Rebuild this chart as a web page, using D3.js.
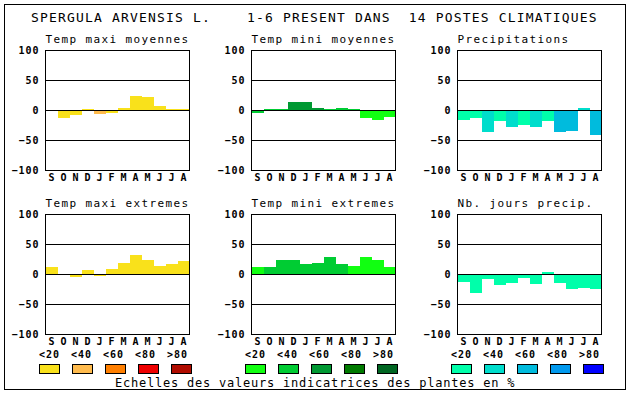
<!DOCTYPE html>
<html>
<head>
<meta charset="utf-8">
<script src="https://cdn.jsdelivr.net/npm/d3@7"></script>
<style>
  body { margin: 0; background: #fff; }
  svg { display: block; }
  text { font-family: "DejaVu Sans Mono", monospace; fill: #000; }
  .tick-lbl, .month, .leg-lbl { font-size: 10px; font-weight: bold; letter-spacing: 1px; }
  .sub { font-size: 11px; letter-spacing: 1.38px; }
</style>
</head>
<body>
<div id="chart"></div>
<script>
var months = ["S", "O", "N", "D", "J", "F", "M", "A", "M", "J", "J", "A"];
var yTicks = [-100, -50, 0, 50, 100];
var legendLabels = ["<20", "<40", "<60", "<80", ">80"];

var tempColors = ["#f9e11b", "#ffbb4d", "#ff7f00", "#ee0000", "#b00c00"];
var greenColors = ["#11ff11", "#00cc33", "#009933", "#007a00", "#006622"];
var blueColors = ["#00ffaa", "#00ddcc", "#00bbdd", "#0099ee", "#0000ff"];

// values (%) and colour class index per month
var maxiMoy = [0, -13, -8, 2, -6, -4, 5, 25, 22, 7, 3, 3];
var maxiMoyCls = [0, 0, 0, 0, 1, 0, 0, 0, 0, 0, 0, 0];
var miniMoy = [-4, 2, 2, 14, 15, 5, 3, 5, 3, -13, -15, -11];
var miniMoyCls = [1, 1, 1, 2, 2, 2, 1, 1, 1, 0, 0, 0];
var precip = [-16, -13, -35, -18, -28, -24, -28, -18, -36, -34, 5, -41];
var precipCls = [0, 0, 1, 0, 1, 0, 1, 0, 2, 2, 1, 2];
var maxiExt = [12, 0, -4, 7, -2, 10, 20, 32, 25, 14, 17, 22];
var maxiExtCls = [0, 0, 0, 0, 0, 0, 0, 0, 0, 0, 0, 0];
var miniExt = [12, 12, 25, 25, 17, 20, 30, 17, 14, 30, 24, 12];
var miniExtCls = [0, 1, 1, 1, 1, 1, 1, 1, 0, 0, 0, 0];
var joursPrecip = [-12, -31, -8, -17, -14, -6, -16, 4, -14, -24, -23, -24];
var joursPrecipCls = [0, 0, 0, 0, 0, 0, 0, 0, 0, 0, 0, 0];

var width = 630, height = 394,
    boxW = 144, boxH = 120,
    colLeft = [45, 251, 457],
    rowTop = [50, 214];

var svg = d3.select("#chart").append("svg")
    .attr("width", width)
    .attr("height", height);

svg.append("rect")
    .attr("x", 4.5).attr("y", 4.5)
    .attr("width", 621).attr("height", 385)
    .attr("fill", "none").attr("stroke", "#000");

svg.append("text")
    .attr("x", 31).attr("y", 22)
    .style("font-size", "13px")
    .style("letter-spacing", "1.17px")
    .style("white-space", "pre")
    .text("SPERGULA ARVENSIS L.    1-6 PRESENT DANS  14 POSTES CLIMATIQUES");

function panel(col, row, title, values, cls, colors) {
    var g = svg.append("g")
        .attr("transform", "translate(" + (colLeft[col] + 0.5) + "," + (rowTop[row] + 0.5) + ")");

    var x = d3.scaleBand().domain(d3.range(12)).range([0, boxW]);
    var y = d3.scaleLinear().domain([-100, 100]).range([boxH, 0]);

    g.append("text")
        .attr("class", "sub")
        .attr("x", 0).attr("y", -8)
        .text(title);

    g.selectAll("rect.bar")
        .data(values)
        .enter().append("rect")
        .attr("class", "bar")
        .attr("x", function (d, i) { return x(i); })
        .attr("width", x.bandwidth())
        .attr("y", function (d) { return y(Math.max(0, d)); })
        .attr("height", function (d) { return Math.abs(y(d) - y(0)); })
        .attr("fill", function (d, i) { return colors[cls[i]]; })
        .attr("shape-rendering", "crispEdges");

    g.selectAll("line.grid")
        .data(yTicks.slice(1, 4))
        .enter().append("line")
        .attr("class", "grid")
        .attr("x1", 0).attr("x2", boxW)
        .attr("y1", function (d) { return y(d); })
        .attr("y2", function (d) { return y(d); })
        .attr("stroke", "#000")
        .attr("shape-rendering", "crispEdges");

    g.append("rect")
        .attr("width", boxW).attr("height", boxH)
        .attr("fill", "none").attr("stroke", "#000")
        .attr("shape-rendering", "crispEdges");

    var yAxis = g.append("g")
        .call(d3.axisLeft(y).tickValues(yTicks).tickSize(0).tickPadding(6));
    yAxis.select(".domain").remove();
    yAxis.selectAll("text")
        .attr("class", "tick-lbl")
        .attr("font-family", null).attr("font-size", null)
        .attr("fill", "#000");

    var xAxis = g.append("g")
        .attr("transform", "translate(0," + boxH + ")")
        .call(d3.axisBottom(x).tickSize(0).tickPadding(3).tickFormat(function (i) { return months[i]; }));
    xAxis.select(".domain").remove();
    xAxis.selectAll("text")
        .attr("class", "month")
        .attr("font-family", null).attr("font-size", null)
        .attr("fill", "#000")
        .attr("dx", "0.5px");
}

function legend(col, colors) {
    var left = colLeft[col] - 6;
    var lbl = d3.scaleLinear().domain([0, 1]).range([left, left + 32]);
    var box = d3.scaleLinear().domain([0, 1]).range([left, left + 33]);

    svg.append("g").selectAll("text")
        .data(legendLabels)
        .enter().append("text")
        .attr("class", "leg-lbl")
        .attr("x", function (d, i) { return lbl(i); })
        .attr("y", 357.5)
        .text(function (d) { return d; });

    svg.append("g").selectAll("rect")
        .data(colors)
        .enter().append("rect")
        .attr("x", function (d, i) { return Math.round(box(i)) + 0.5; })
        .attr("y", 364.5)
        .attr("width", 20).attr("height", 9)
        .attr("fill", function (d) { return d; })
        .attr("stroke", "#000");
}

panel(0, 0, "Temp maxi moyennes", maxiMoy, maxiMoyCls, tempColors);
panel(1, 0, "Temp mini moyennes", miniMoy, miniMoyCls, greenColors);
panel(2, 0, "Precipitations", precip, precipCls, blueColors);
panel(0, 1, "Temp maxi extremes", maxiExt, maxiExtCls, tempColors);
panel(1, 1, "Temp mini extremes", miniExt, miniExtCls, greenColors);
panel(2, 1, "Nb. jours precip.", joursPrecip, joursPrecipCls, blueColors);

legend(0, tempColors);
legend(1, greenColors);
legend(2, blueColors);

svg.append("text")
    .attr("x", 115).attr("y", 386.5)
    .style("font-size", "12px")
    .style("letter-spacing", "0.78px")
    .text("Echelles des valeurs indicatrices des plantes en %");
</script>
</body>
</html>
